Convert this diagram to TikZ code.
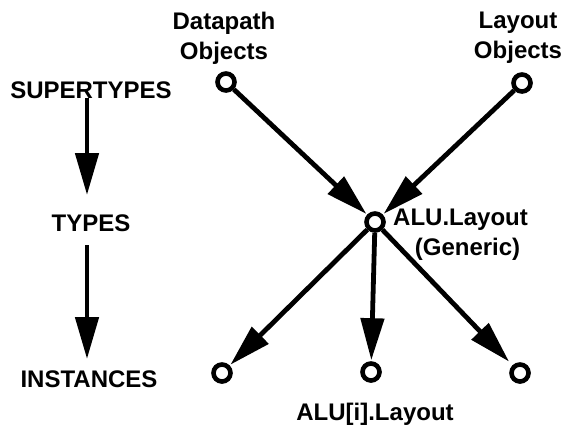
\documentclass[tikz,border=0pt]{standalone}
\usepackage{fontspec}
\setmainfont{Liberation Sans}
\usetikzlibrary{arrows.meta}
\begin{document}
\begin{tikzpicture}[x=1pt,y=-1pt,
  obj/.style={circle,draw,line width=4.6pt,minimum size=17pt,inner sep=0pt},
  lbl/.style={font=\fontsize{24}{30}\selectfont\bfseries,inner sep=0pt,align=center},
  arr/.style={line width=4.8pt,-{Triangle[length=42pt,width=23pt]},shorten >=1pt}]
\useasboundingbox (0,0) rectangle (564,429);
% circles
\node[obj] (dp) at (226,82) {};
\node[obj] (lo) at (522,83) {};
\node[obj] (alu) at (375,222) {};
\node[obj] (i1) at (222,373) {};
\node[obj] (i2) at (371,372) {};
\node[obj] (i3) at (520,373) {};
% labels
\node[lbl] (tdp) at (224,38) {Datapath\\Objects};
\node[lbl] (tlo) at (518,38) {Layout\\Objects};
\node[lbl] (sup) at (91,90) {SUPERTYPES};
\node[lbl] (typ) at (91,223) {TYPES};
\node[lbl] (ins) at (89,379) {INSTANCES};
\node[lbl,anchor=west] (talu) at (393,235) {ALU.Layout\\\hspace*{14pt}(Generic)};
\node[lbl] (tinst) at (375,414) {ALU[i].Layout};
% arrows
\coordinate (s1) at (87,98);
\coordinate (s2) at (87,196);
\coordinate (t1) at (87,245);
\coordinate (t2) at (87,360);
\draw[arr] (s1) -- (s2);
\draw[arr] (t1) -- (t2);
\draw[arr] (dp) -- (alu);
\draw[arr] (lo) -- (alu);
\draw[arr] (alu) -- (i1);
\draw[arr] (alu) -- (i2);
\draw[arr,shorten >=5pt] (alu) -- (i3);
\end{tikzpicture}
\end{document}
